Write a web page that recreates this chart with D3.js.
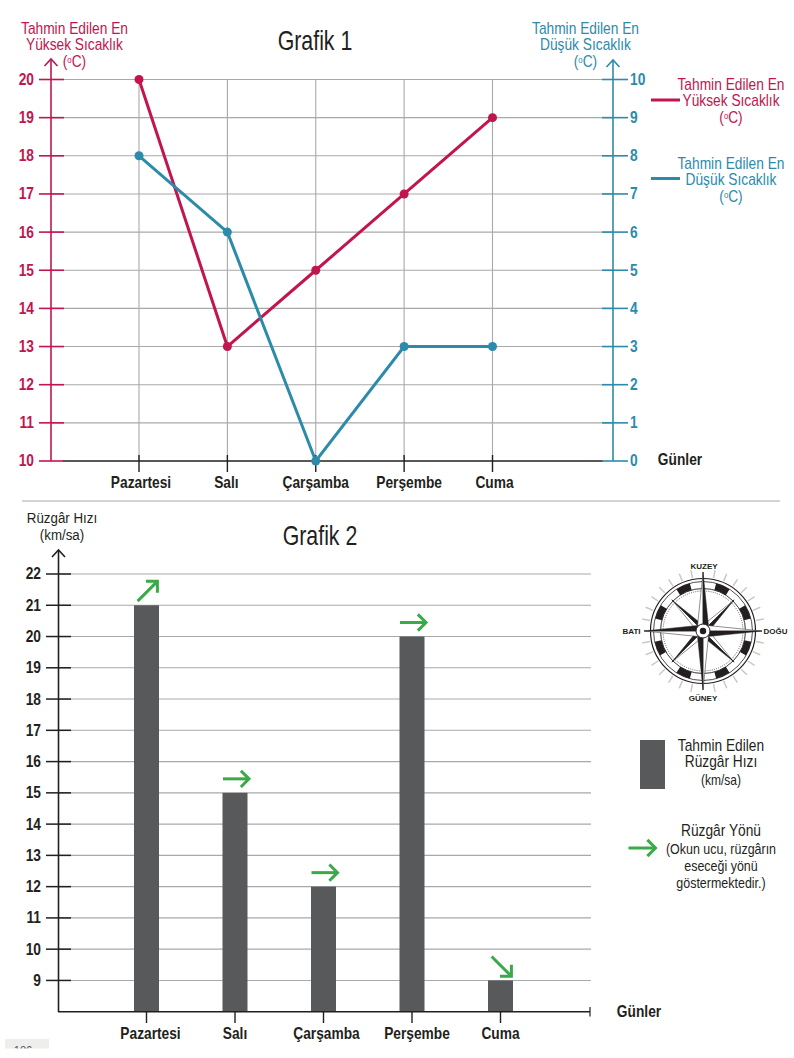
<!DOCTYPE html>
<html lang="tr"><head><meta charset="utf-8">
<script src="https://cdn.jsdelivr.net/npm/d3@7"></script>
<style>
html,body{margin:0;padding:0;background:#fff}
svg{display:block}
text{font-family:"Liberation Sans",sans-serif}
</style></head><body><svg id="c" width="794" height="1058"></svg>
<script>
const days = ["Pazartesi","Salı","Çarşamba","Perşembe","Cuma"];
const highTemps = [20,13,15,17,19];
const lowTemps = [8,6,0,3,3];
const windSpeed = [21,15,12,20,9];
const windDirDeg = [45,90,90,90,135];
const highTicks = d3.range(10,21);
const lowTicks = d3.range(0,11);
const windTicks = d3.range(9,23);
const PINK="#c2154f", BLUE="#2c8bab", GREEN="#3aaa49", DARK="#231f20", GRID="#a9a9a9", BAR="#58595b";

const svg=d3.select("#c");
function label(x,y,lines,o={}){
  const t=svg.append("text").attr("x",x).attr("y",y).attr("text-anchor",o.anchor||"middle")
    .attr("fill",o.fill||DARK).attr("font-size",o.size||15).attr("font-weight",o.weight||"normal")
    .attr("data-s",o.s||null);
  lines.forEach((l,i)=>{
    const ts=t.append("tspan").attr("x",x).attr("dy",i?(o.lh||16.5):0);
    const parts=Array.isArray(l)?l:[l];
    parts.forEach(p=>{
      if(typeof p==="string") ts.append("tspan").text(p);
      else ts.append("tspan").attr("font-size",p.size).attr("dy",p.dy).text(p.t);
    });
  });
  return t;
}
const degC=[ "(",{t:"o",size:9,dy:-4},{t:"C)",dy:4} ];
function upArrow(x,y,color){
  svg.append("path").attr("d",d3.line()([[x-6.5,y+7],[x,y],[x+6.5,y+7]]))
    .attr("fill","none").attr("stroke",color).attr("stroke-width",1.6);
}

/* ---------- Grafik 1 ---------- */
const x1=d3.scalePoint().domain(days).range([139,492.5]);
const yHigh=d3.scaleLinear().domain([10,20]).range([461,79.5]);
const yLow=d3.scaleLinear().domain([0,10]).range([461,79.5]);
const g1=svg.append("g");
g1.selectAll("line.h").data(highTicks.slice(1)).join("line")
  .attr("x1",51).attr("x2",613).attr("y1",d=>yHigh(d)).attr("y2",d=>yHigh(d))
  .attr("stroke",GRID).attr("stroke-width",1.1);
g1.selectAll("line.v").data(days).join("line")
  .attr("x1",d=>x1(d)).attr("x2",d=>x1(d)).attr("y1",79.5).attr("y2",461)
  .attr("stroke",GRID).attr("stroke-width",1.1);
g1.append("line").attr("x1",63).attr("x2",603).attr("y1",461).attr("y2",461).attr("stroke",DARK).attr("stroke-width",1.5);
g1.selectAll("line.t").data(days).join("line")
  .attr("x1",d=>x1(d)).attr("x2",d=>x1(d)).attr("y1",455).attr("y2",472)
  .attr("stroke",DARK).attr("stroke-width",1.4);
g1.append("line").attr("x1",51).attr("x2",51).attr("y1",59).attr("y2",461).attr("stroke",PINK).attr("stroke-width",1.6);
upArrow(51,59,PINK);
g1.selectAll("line.lt").data(highTicks).join("line")
  .attr("x1",39).attr("x2",64).attr("y1",d=>yHigh(d)).attr("y2",d=>yHigh(d))
  .attr("stroke",PINK).attr("stroke-width",1.6);
g1.selectAll("text.lt").data(highTicks).join("text")
  .attr("x",34).attr("y",d=>yHigh(d)+5.5).attr("text-anchor","end")
  .attr("font-size",16).attr("font-weight","bold").attr("fill",PINK).text(d=>d);
g1.append("line").attr("x1",613).attr("x2",613).attr("y1",60).attr("y2",461).attr("stroke",BLUE).attr("stroke-width",1.6);
upArrow(613,60,BLUE);
g1.selectAll("line.rt").data(lowTicks).join("line")
  .attr("x1",602).attr("x2",628).attr("y1",d=>yLow(d)).attr("y2",d=>yLow(d))
  .attr("stroke",BLUE).attr("stroke-width",1.6);
g1.selectAll("text.rt").data(lowTicks).join("text")
  .attr("x",630).attr("y",d=>yLow(d)+5.5)
  .attr("font-size",16).attr("font-weight","bold").attr("fill",BLUE).text(d=>d);
[[highTemps,yHigh,PINK],[lowTemps,yLow,BLUE]].forEach(([vals,sc,col])=>{
  const pts=vals.map((v,i)=>[x1(days[i]),sc(v)]);
  g1.append("path").attr("d",d3.line()(pts)).attr("fill","none").attr("stroke",col).attr("stroke-width",3);
  g1.selectAll(null).data(pts).join("circle").attr("cx",d=>d[0]).attr("cy",d=>d[1]).attr("r",4.5).attr("fill",col);
});
const labelDx1=[2,-1,0,5,2];
g1.selectAll("text.c").data(days).join("text")
  .attr("x",(d,i)=>x1(d)+labelDx1[i]).attr("y",488).attr("text-anchor","middle")
  .attr("font-size",16).attr("font-weight","bold").attr("fill",DARK).text(d=>d);
label(680,465,["Günler"],{weight:"bold",size:16});
label(315,50,["Grafik 1"],{size:27,s:0.79});
label(74.5,34,["Tahmin Edilen En","Yüksek Sıcaklık",degC],{fill:PINK,size:16});
label(585.5,34,["Tahmin Edilen En","Düşük Sıcaklık",degC],{fill:BLUE,size:16});
label(731,90,["Tahmin Edilen En","Yüksek Sıcaklık",degC],{fill:PINK,size:16});
label(731,169,["Tahmin Edilen En","Düşük Sıcaklık",degC],{fill:BLUE,size:16});
svg.append("line").attr("x1",651).attr("x2",680).attr("y1",100).attr("y2",100).attr("stroke",PINK).attr("stroke-width",3);
svg.append("line").attr("x1",651).attr("x2",680).attr("y1",178.5).attr("y2",178.5).attr("stroke",BLUE).attr("stroke-width",3);

svg.append("line").attr("x1",22).attr("x2",780).attr("y1",501).attr("y2",501).attr("stroke","#a8a8a8").attr("stroke-width",1);

/* ---------- Grafik 2 ---------- */
const x2=d3.scalePoint().domain(days).range([146.5,500.5]);
const yW=d3.scaleLinear().domain([8,22]).range([1011.7,574]);
const g2=svg.append("g");
g2.selectAll("line.h").data(windTicks).join("line")
  .attr("x1",58).attr("x2",591).attr("y1",d=>yW(d)).attr("y2",d=>yW(d))
  .attr("stroke",GRID).attr("stroke-width",1.1);
g2.selectAll("rect").data(days).join("rect")
  .attr("x",d=>x2(d)-12.5).attr("width",25)
  .attr("y",(d,i)=>yW(windSpeed[i])).attr("height",(d,i)=>yW(8)-yW(windSpeed[i]))
  .attr("fill",BAR);
g2.append("line").attr("x1",58.5).attr("x2",58.5).attr("y1",550).attr("y2",1012).attr("stroke",DARK).attr("stroke-width",1.6);
upArrow(58.5,550,DARK);
g2.append("line").attr("x1",58).attr("x2",590).attr("y1",1011.7).attr("y2",1011.7).attr("stroke",DARK).attr("stroke-width",1.6);
g2.append("line").attr("x1",590).attr("x2",590).attr("y1",1007).attr("y2",1016.5).attr("stroke",DARK).attr("stroke-width",1.2);
g2.selectAll("line.lt").data(windTicks).join("line")
  .attr("x1",46).attr("x2",71).attr("y1",d=>yW(d)).attr("y2",d=>yW(d))
  .attr("stroke",DARK).attr("stroke-width",1.5);
g2.selectAll("text.lt").data(windTicks).join("text")
  .attr("x",41).attr("y",d=>yW(d)+5.5).attr("text-anchor","end")
  .attr("font-size",16).attr("font-weight","bold").attr("fill",DARK).text(d=>d);
g2.selectAll("line.t").data(days).join("line")
  .attr("x1",d=>x2(d)).attr("x2",d=>x2(d)).attr("y1",1012).attr("y2",1023)
  .attr("stroke",DARK).attr("stroke-width",1.4);
const labelDx2=[4,0,3,5,0];
g2.selectAll("text.c").data(days).join("text")
  .attr("x",(d,i)=>x2(d)+labelDx2[i]).attr("y",1039).attr("text-anchor","middle")
  .attr("font-size",16).attr("font-weight","bold").attr("fill",DARK).text(d=>d);
label(639,1017,["Günler"],{weight:"bold",size:16});
label(320,545,["Grafik 2"],{size:27,s:0.79});
label(62,523,["Rüzgâr Hızı","(km/sa)"],{size:15.5,lh:17});

function windArrow(g,cx,cy,deg,len){
  const a=(deg-90)*Math.PI/180,dx=Math.cos(a)*len/2,dy=Math.sin(a)*len/2;
  const t=[cx+dx,cy+dy],h=11.5;
  const wing=s=>[t[0]-Math.cos(a+s*Math.PI/4)*h,t[1]-Math.sin(a+s*Math.PI/4)*h];
  g.append("path").attr("d",d3.line()([[cx-dx,cy-dy],t])).attr("fill","none").attr("stroke",GREEN).attr("stroke-width",3);
  g.append("path").attr("d",d3.line()([wing(1),t,wing(-1)])).attr("fill","none").attr("stroke",GREEN).attr("stroke-width",3);
}
days.forEach((d,i)=>{
  const diag=windDirDeg[i]%90!==0;
  windArrow(g2,x2(d)+1,yW(windSpeed[i])-14,windDirDeg[i],diag?28:26);
});

/* ---------- Pusula ---------- */
const cpx=703,cpy=631;
const cp=svg.append("g").attr("transform",`translate(${cpx},${cpy})`);
const polar=(deg,r)=>[Math.sin(deg*Math.PI/180)*r,-Math.cos(deg*Math.PI/180)*r];
const rayAngles=d3.range(0,360,11.25);
cp.selectAll("line.ray").data(rayAngles.filter(d=>d%90!==0)).join("line")
  .attr("x1",d=>polar(d,54)[0]).attr("y1",d=>polar(d,54)[1])
  .attr("x2",d=>polar(d,62)[0]).attr("y2",d=>polar(d,62)[1])
  .attr("stroke","#c9c9c2").attr("stroke-width",1.5);
cp.append("circle").attr("r",52.5).attr("fill","#fff").attr("stroke",DARK).attr("stroke-width",1.2);
cp.append("circle").attr("r",49.5).attr("fill","none").attr("stroke",DARK).attr("stroke-width",.8);
const blockAngles=[24,67,111,156,204,249,293,336];
const arc=d3.arc().innerRadius(42.5).outerRadius(49.5);
cp.selectAll("path.b").data(blockAngles).join("path")
  .attr("d",d=>arc({startAngle:(d-8.5)*Math.PI/180,endAngle:(d+8.5)*Math.PI/180})).attr("fill",DARK);
cp.append("circle").attr("r",42.5).attr("fill","#fff").attr("stroke",DARK).attr("stroke-width",.9);
cp.append("circle").attr("r",40).attr("fill","none").attr("stroke","#555").attr("stroke-width",.9).attr("stroke-dasharray","1 1.2");
function star(angles,len,w){
  angles.forEach(a=>{
    const tip=polar(a,len),l=polar(a-90,w),r=polar(a+90,w);
    cp.append("path").attr("d",d3.line()([[0,0],l,tip])+"Z").attr("fill","#fff").attr("stroke",DARK).attr("stroke-width",.5);
    cp.append("path").attr("d",d3.line()([[0,0],r,tip])+"Z").attr("fill",DARK).attr("stroke",DARK).attr("stroke-width",.5);
  });
}
star([45,135,225,315],44,4.5);
star([0,90,180,270],59,6);
cp.append("circle").attr("r",7).attr("fill","#fff").attr("stroke",DARK).attr("stroke-width",1);
cp.append("circle").attr("r",3.2).attr("fill",DARK);
const compassLabels=[["KUZEY",704,568.5],["GÜNEY",703,701],["BATI",631.5,634],["DOĞU",775.5,634]];
svg.selectAll("text.cp").data(compassLabels).join("text")
  .attr("x",d=>d[1]).attr("y",d=>d[2]).attr("text-anchor","middle").attr("data-s",1)
  .attr("font-size",8).attr("font-weight","bold").attr("fill",DARK).text(d=>d[0]);

/* ---------- Lejant 2 ---------- */
svg.append("rect").attr("x",640).attr("y",740).attr("width",25).attr("height",49).attr("fill",BAR);
label(721,751,["Tahmin Edilen","Rüzgâr Hızı"],{size:16,lh:16.5});
label(721,785,["(km/sa)"],{size:14});
label(721,836,["Rüzgâr Yönü"],{size:16});
label(721,854,["(Okun ucu, rüzgârın","eseceği yönü","göstermektedir.)"],{size:14.5,lh:17});
windArrow(svg,642,848,90,27);

/* ---------- Sayfa numarası ---------- */
svg.append("clipPath").attr("id","pg").append("rect").attr("x",5).attr("y",1039).attr("width",44).attr("height",9.5);
const pg=svg.append("g").attr("clip-path","url(#pg)");
pg.append("rect").attr("x",5).attr("y",1039).attr("width",44).attr("height",10).attr("fill","#eeeeec");
pg.append("text").attr("x",23).attr("y",1055).attr("text-anchor","middle").attr("font-size",13).attr("fill","#555").text("186");

/* Dar yazı karakteri: metinleri yatayda daralt */
svg.selectAll("text").each(function(){
  const el=d3.select(this), s=+el.attr("data-s")||0.86, x=+el.attr("x");
  el.attr("transform",`translate(${x},0) scale(${s},1) translate(${-x},0)`);
});
</script></body></html>
